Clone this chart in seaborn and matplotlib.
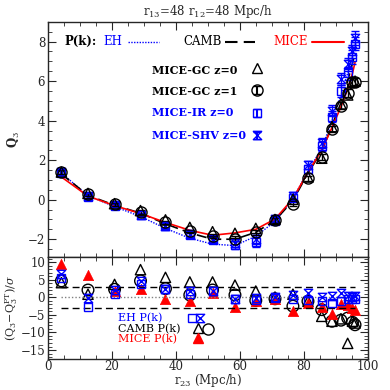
import numpy as np
import seaborn as sns
import matplotlib.pyplot as plt
from matplotlib.path import Path
from matplotlib.ticker import MultipleLocator

# separations r23 (Mpc/h)
r23 = [4.2, 12.5, 20.8, 28.9, 36.7, 44.3, 51.4, 58.4, 64.9, 70.9,
       76.5, 81.2, 85.5, 88.7, 91.5, 93.6, 95.1, 95.9]

# theory Q3 for the three P(k)
q_eh = [1.35, 0.20, -0.35, -0.85, -1.45, -1.95, -2.25, -2.32, -1.85, -1.10,
        0.05, 1.45, 2.60, 4.00, 5.30, 6.40, 7.30, 7.80]
q_camb = [1.30, 0.22, -0.28, -0.68, -1.22, -1.68, -2.00, -2.00, -1.65, -1.05,
          -0.05, 1.35, 2.45, 3.75, 4.90, 6.00, 6.90, 7.40]
q_mice = [1.15, 0.18, -0.30, -0.70, -1.15, -1.55, -1.80, -1.68, -1.50, -0.98,
          0.05, 1.40, 2.50, 3.65, 4.70, 5.60, 6.40, 6.95]

# measurements
q_gc0 = [1.40, 0.32, -0.20, -0.55, -1.02, -1.40, -1.62, -1.70, -1.45, -1.00,
         0.02, 1.15, 2.10, 3.70, 4.85, 5.30, 5.95, 6.00]
q_gc1 = [1.38, 0.28, -0.24, -0.62, -1.15, -1.60, -1.85, -1.97, -1.65, -1.05,
         -0.20, 1.08, 2.15, 3.58, 4.75, 5.40, 5.95, 5.98]
e_gc1 = [0.10, 0.08, 0.07, 0.08, 0.08, 0.09, 0.10, 0.11, 0.12, 0.12,
         0.13, 0.14, 0.15, 0.17, 0.18, 0.19, 0.20, 0.20]
q_ir = [1.35, 0.15, -0.30, -0.78, -1.35, -1.80, -2.05, -2.30, -2.15, -1.10,
        0.10, 1.55, 2.70, 4.20, 5.50, 6.40, 7.20, 7.90]
e_ir = [0.10, 0.10, 0.09, 0.10, 0.12, 0.14, 0.16, 0.20, 0.25, 0.15,
        0.18, 0.22, 0.25, 0.28, 0.30, 0.32, 0.35, 0.35]
q_shv = [1.40, 0.18, -0.28, -0.75, -1.32, -1.75, -2.00, -2.20, -2.00, -1.00,
         0.20, 1.75, 2.85, 4.50, 6.10, 6.85, 7.50, 8.20]
e_shv = [0.10, 0.10, 0.09, 0.10, 0.12, 0.14, 0.16, 0.20, 0.22, 0.15,
         0.18, 0.22, 0.25, 0.28, 0.30, 0.32, 0.35, 0.35]

# residuals (Q3 - Q3^PT)/sigma
d_eh_sq = [5.4, -2.7, 0.9, 3.8, 2.5, 0.9, 1.7, -0.5, -0.7, -0.2,
           -0.6, -0.8, -1.1, -1.5, -1.1, -0.6, -0.4, -0.6]
d_eh_hg = [6.8, -0.1, 2.1, 4.7, 2.5, 1.8, 1.7, -0.5, -0.3, 0.1,
           0.6, 1.2, 0.2, 0.4, 1.3, 0.4, 0.1, 0.4]
d_camb_tri = [4.2, 0.9, 3.7, 7.9, 5.7, 4.4, 4.4, 3.5, 1.8, 0.1,
              0.9, -1.1, -5.4, -6.8, -6.1, -13.1, -6.8, -7.3]
d_camb_circ = [4.7, 2.1, 2.3, 4.7, 2.5, 0.7, 2.1, 0.7, -0.9, -0.4,
               -2.5, -1.1, -3.5, -6.8, -6.5, -5.9, -7.1, -7.8]
d_mice = [9.6, 6.3, 1.8, 2.5, -0.5, -1.1, 1.2, -2.7, -1.1, -0.6,
          -3.9, -1.5, -2.7, -4.6, -2.0, -2.3, -3.0, -3.5]

BLUE = '#0000ff'
RED = '#ff0000'

sns.set_style("ticks")
plt.rcParams['font.family'] = ['DejaVu Serif']
plt.rcParams['mathtext.fontset'] = 'dejavuserif'
plt.rcParams['font.size'] = 8.5

hourglass = Path([(-1, 1), (1, 1), (-1, -1), (1, -1), (-1, 1)],
                 [Path.MOVETO, Path.LINETO, Path.LINETO, Path.LINETO, Path.CLOSEPOLY])

fig = plt.figure(figsize=(3.9, 3.9), dpi=100)
ax = fig.add_axes([0.123, 0.341, 0.821, 0.603])
ax2 = fig.add_axes([0.123, 0.080, 0.821, 0.261])

# top panel: theory lines
sns.lineplot(x=r23, y=q_eh, ax=ax, color=BLUE, linestyle=(0, (1, 1)), linewidth=1)
sns.lineplot(x=r23, y=q_camb, ax=ax, color='k', linestyle=(0, (6, 3)), linewidth=1.2)
sns.lineplot(x=r23, y=q_mice, ax=ax, color=RED, linewidth=1.2)

# top panel: measurements
ms = 7
ax.errorbar(r23, q_ir, yerr=e_ir, fmt='s', ms=ms - 1, mfc='none', mec=BLUE,
            ecolor=BLUE, capsize=3, elinewidth=1, mew=1)
ax.errorbar(r23, q_shv, yerr=e_shv, fmt='none', ecolor=BLUE, capsize=3, elinewidth=1)
ax.plot(r23, q_shv, ls='none', marker=hourglass, ms=ms - 1, mfc='none', mec=BLUE, mew=1)
ax.errorbar(r23, q_gc1, yerr=e_gc1, fmt='o', ms=ms + 1, mfc='none', mec='k',
            ecolor='k', capsize=3, elinewidth=1, mew=1)
sns.scatterplot(x=r23, y=q_gc0, ax=ax, marker='^', s=55, facecolor='none',
                edgecolor='k', linewidth=1, zorder=5)

# top panel annotations
fs = 8.5
ax.text(5.3, 8.0, 'P(k):', color='k', va='center', fontsize=fs, fontweight='bold')
ax.text(17.2, 8.0, 'EH', color=BLUE, va='center', fontsize=fs)
ax.plot([25, 34.7], [8.0, 8.0], color=BLUE, ls=(0, (1, 1)), lw=1)
ax.text(42.3, 8.0, 'CAMB', color='k', va='center', fontsize=fs)
ax.plot([55.3, 64.7], [8.0, 8.0], color='k', ls=(0, (6, 3)), lw=1.5)
ax.text(70.4, 8.0, 'MICE', color=RED, va='center', fontsize=fs)
ax.plot([82.5, 92.3], [8.0, 8.0], color=RED, lw=1.5)

lab = dict(va='center', fontsize=8, fontweight='bold')
ax.text(32.4, 6.55, 'MICE-GC z=0', color='k', **lab)
ax.plot([65.2], [6.65], ls='none', marker='^', ms=ms, mfc='none', mec='k', mew=1)
ax.text(32.4, 5.5, 'MICE-GC z=1', color='k', **lab)
ax.errorbar([65.2], [5.55], yerr=[0.2], fmt='o', ms=ms + 1, mfc='none', mec='k',
            ecolor='k', capsize=3, mew=1)
ax.text(32.4, 4.4, 'MICE-IR z=0', color=BLUE, **lab)
ax.errorbar([65.2], [4.4], yerr=[0.2], fmt='s', ms=ms - 1, mfc='none', mec=BLUE,
            ecolor=BLUE, capsize=3, mew=1)
ax.text(32.4, 3.25, 'MICE-SHV z=0', color=BLUE, **lab)
ax.errorbar([65.2], [3.25], yerr=[0.2], fmt='none', ecolor=BLUE, capsize=3)
ax.plot([65.2], [3.25], ls='none', marker=hourglass, ms=ms - 1, mfc='none', mec=BLUE, mew=1)

ax.set_xlim(0, 100)
ax.set_ylim(-2.9, 9)
ax.set_ylabel('Q$_3$', fontweight='bold', labelpad=4)
ax.set_title('r$_{13}$=48 r$_{12}$=48 Mpc/h', fontsize=8.5, pad=5)
ax.yaxis.set_major_locator(MultipleLocator(2))
ax.yaxis.set_minor_locator(MultipleLocator(0.5))
ax.xaxis.set_major_locator(MultipleLocator(20))
ax.xaxis.set_minor_locator(MultipleLocator(5))
ax.tick_params(labelbottom=False)

# bottom panel
ax2.plot([4.2, 95.9], [3, 3], color='k', ls=(0, (5, 3)), lw=1)
ax2.plot([4.2, 95.9], [-3, -3], color='k', ls=(0, (5, 3)), lw=1)
ax2.plot([4.2, 95.9], [0, 0], color='gray', ls=(0, (1, 1.5)), lw=1)

ax2.plot(r23, d_eh_sq, ls='none', marker='s', ms=ms - 1, mfc='none', mec=BLUE, mew=1)
ax2.plot(r23, d_eh_hg, ls='none', marker=hourglass, ms=ms - 1, mfc='none', mec=BLUE, mew=1)
sns.scatterplot(x=r23, y=d_camb_circ, ax=ax2, marker='o', s=70, facecolor='none',
                edgecolor='k', linewidth=1)
sns.scatterplot(x=r23, y=d_camb_tri, ax=ax2, marker='^', s=55, facecolor='none',
                edgecolor='k', linewidth=1)
sns.scatterplot(x=r23, y=d_mice, ax=ax2, marker='^', s=55, color=RED,
                edgecolor=RED, linewidth=0.5)

lab2 = dict(va='center', fontsize=8)
ax2.text(21.9, -5.8, 'EH P(k)', color=BLUE, **lab2)
ax2.plot([44.9], [-5.8], ls='none', marker='s', ms=ms - 1, mfc='none', mec=BLUE, mew=1)
ax2.plot([47.5], [-5.8], ls='none', marker=hourglass, ms=ms - 1, mfc='none', mec=BLUE, mew=1)
ax2.text(21.9, -8.9, 'CAMB P(k)', color='k', **lab2)
ax2.plot([47.0], [-8.6], ls='none', marker='^', ms=ms, mfc='none', mec='k', mew=1)
ax2.plot([50.0], [-8.9], ls='none', marker='o', ms=ms + 1, mfc='none', mec='k', mew=1)
ax2.text(21.9, -12.0, 'MICE P(k)', color=RED, **lab2)
ax2.plot([47.0], [-11.7], ls='none', marker='^', ms=ms, color=RED)

ax2.set_xlim(0, 100)
ax2.set_ylim(-17.5, 11.5)
ax2.set_xlabel('r$_{23}$ (Mpc/h)', fontsize=8.5, labelpad=-1)
ax2.set_ylabel('(Q$_3$$-$Q$_3^{\\rm PT}$)/$\\sigma$', fontsize=8, labelpad=0)
ax2.yaxis.set_major_locator(MultipleLocator(5))
ax2.yaxis.set_minor_locator(MultipleLocator(1))
ax2.xaxis.set_major_locator(MultipleLocator(20))
ax2.xaxis.set_minor_locator(MultipleLocator(5))

for a in (ax, ax2):
    a.tick_params(which='both', direction='in', top=True, right=True,
                  labelsize=8.5, pad=2)
    a.tick_params(which='major', length=6)
    a.tick_params(which='minor', length=3)
    for s in a.spines.values():
        s.set_linewidth(1)
ax2.tick_params(axis='x', pad=1)

fig.savefig('out.png', dpi=100)
